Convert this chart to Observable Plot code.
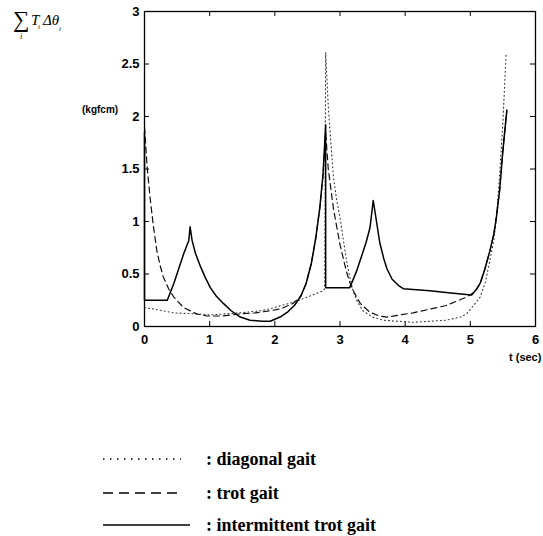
<!DOCTYPE html>
<html><head><meta charset="utf-8">
<script src="https://cdn.jsdelivr.net/npm/d3@7"></script>
<script src="https://cdn.jsdelivr.net/npm/@observablehq/plot@0.6"></script>
<style>
body{margin:0;background:#fff;width:543px;height:536px;position:relative;overflow:hidden;font-family:"Liberation Sans",Arial,sans-serif}
#chart{position:absolute;left:0;top:0}
.abs{position:absolute;white-space:nowrap;line-height:1}
.leg{font-family:"Liberation Serif","Times New Roman",serif;font-weight:bold;font-size:18px;color:#000}
.sym{font-family:"Liberation Serif","Times New Roman",serif;font-style:italic;color:#000}
</style></head><body>
<div id="chart"></div>
<div class="abs sym" style="left:13px;top:8px;font-size:23px;font-style:normal">&#8721;</div>
<div class="abs sym" style="left:20px;top:33px;font-size:8px">i</div>
<div class="abs sym" style="left:31px;top:13px;font-size:15px">T</div>
<div class="abs sym" style="left:38px;top:24px;font-size:7px">i</div>
<div class="abs sym" style="left:43px;top:13px;font-size:15px">&#916;&#952;</div>
<div class="abs sym" style="left:59px;top:26px;font-size:7px">i</div>
<div class="abs" style="left:82px;top:105px;font-size:10px;font-weight:bold">(kgfcm)</div>
<div class="abs" style="left:509px;top:352px;font-size:11px;font-weight:bold">t (sec)</div>
<svg class="abs" style="left:0;top:440px" width="543" height="96" id="legsvg"></svg>
<div class="abs leg" style="left:206px;top:450px">: diagonal gait</div>
<div class="abs leg" style="left:206px;top:484px">: trot gait</div>
<div class="abs leg" style="left:206px;top:516px">: intermittent trot gait</div>
<script>
// Ticks
const xTicks = [0, 1, 2, 3, 4, 5, 6];
const yTicks = [0, 0.5, 1, 1.5, 2, 2.5, 3];

// Series names
const seriesNames = ["diagonal gait", "trot gait", "intermittent trot gait"];

// diagonal gait (dotted)
const tDiagonal = [0, 0.2, 0.45, 0.8, 1.0, 1.47, 1.78, 1.93, 2.1, 2.28, 2.5, 2.74, 2.765, 2.78, 2.82, 2.86, 2.9, 2.95, 3.0, 3.05, 3.1, 3.15, 3.2, 3.27, 3.35, 3.5, 3.66, 4.12, 4.63, 4.85, 4.94, 5.05, 5.15, 5.23, 5.3, 5.36, 5.4, 5.45, 5.5, 5.55];
const vDiagonal = [0.18, 0.16, 0.13, 0.12, 0.11, 0.13, 0.15, 0.17, 0.2, 0.23, 0.28, 0.34, 0.36, 2.61, 2.1, 1.75, 1.42, 1.2, 1.04, 0.83, 0.63, 0.47, 0.34, 0.23, 0.15, 0.09, 0.06, 0.04, 0.06, 0.09, 0.12, 0.2, 0.28, 0.42, 0.63, 0.82, 1.04, 1.45, 1.95, 2.61];

// trot gait (dashed)
const tTrot = [0, 0.04, 0.09, 0.14, 0.19, 0.24, 0.29, 0.37, 0.45, 0.6, 0.8, 0.96, 1.2, 1.47, 1.7, 1.93, 2.1, 2.28, 2.4, 2.48, 2.56, 2.63, 2.69, 2.74, 2.78, 2.82, 2.9, 3.0, 3.1, 3.15, 3.22, 3.31, 3.45, 3.6, 3.72, 4.12, 4.63, 4.94, 5.07, 5.15, 5.22, 5.3, 5.36, 5.4, 5.45, 5.5, 5.56];
const vTrot = [1.9, 1.52, 1.2, 0.94, 0.72, 0.58, 0.47, 0.36, 0.28, 0.18, 0.12, 0.1, 0.1, 0.12, 0.13, 0.15, 0.17, 0.22, 0.29, 0.41, 0.6, 0.85, 1.13, 1.45, 1.85, 1.5, 1.12, 0.78, 0.52, 0.42, 0.32, 0.22, 0.14, 0.1, 0.09, 0.13, 0.2, 0.28, 0.33, 0.41, 0.54, 0.72, 0.88, 1.04, 1.3, 1.68, 2.06];

// intermittent trot gait (solid)
const tInter = [0, 0, 0.35, 0.45, 0.6, 0.68, 0.7, 0.73, 0.78, 0.86, 0.93, 1.01, 1.1, 1.21, 1.33, 1.47, 1.62, 1.8, 1.93, 2.08, 2.2, 2.3, 2.4, 2.48, 2.56, 2.63, 2.69, 2.74, 2.78, 2.78, 3.15, 3.25, 3.31, 3.4, 3.46, 3.51, 3.56, 3.61, 3.67, 3.72, 3.8, 3.9, 3.97, 4.38, 4.7, 5.02, 5.1, 5.15, 5.22, 5.3, 5.36, 5.4, 5.45, 5.5, 5.56];
const vInter = [1.85, 0.25, 0.25, 0.41, 0.69, 0.82, 0.95, 0.82, 0.7, 0.57, 0.47, 0.37, 0.29, 0.22, 0.15, 0.09, 0.06, 0.05, 0.05, 0.09, 0.14, 0.2, 0.29, 0.41, 0.6, 0.85, 1.13, 1.45, 1.92, 0.37, 0.37, 0.52, 0.63, 0.8, 0.94, 1.2, 1.0, 0.8, 0.65, 0.55, 0.45, 0.39, 0.36, 0.34, 0.32, 0.3, 0.36, 0.41, 0.54, 0.72, 0.88, 1.04, 1.3, 1.68, 2.06];

const toRows = (ts, vs) => ts.map((t, i) => ({t, v: vs[i]}));
const diagonal = toRows(tDiagonal, vDiagonal);
const trot = toRows(tTrot, vTrot);
const inter = toRows(tInter, vInter);

const W = 543, H = 370, mL = 144, mR = 8, mT = 11, mB = 44;
const fw = W - mL - mR, fh = H - mT - mB, tk = 5;

const chart = Plot.plot({
  width: W, height: H,
  marginLeft: mL, marginRight: mR, marginTop: mT, marginBottom: mB,
  style: {fontFamily: '"Liberation Sans", Arial, sans-serif', fontSize: "13px", fontWeight: "bold", color: "#000", background: "transparent"},
  x: {domain: [0, 6]},
  y: {domain: [0, 3]},
  marks: [
    Plot.axisX(xTicks, {tickSize: 0, tickPadding: 8, label: null, tickFormat: d => String(d)}),
    Plot.axisY(yTicks, {tickSize: 0, tickPadding: 5, label: null, tickFormat: d => String(d)}),
    Plot.tickX(xTicks, {x: d => d, insetTop: fh - tk, stroke: "#000"}),
    Plot.tickX(xTicks, {x: d => d, insetBottom: fh - tk, stroke: "#000"}),
    Plot.tickY(yTicks, {y: d => d, insetRight: fw - tk, stroke: "#000"}),
    Plot.tickY(yTicks, {y: d => d, insetLeft: fw - tk, stroke: "#000"}),
    Plot.line(diagonal, {x: "t", y: "v", stroke: "#333", strokeWidth: 1.1, strokeDasharray: "1,3"}),
    Plot.line(trot, {x: "t", y: "v", stroke: "#111", strokeWidth: 1.2, strokeDasharray: "6,4"}),
    Plot.line(inter, {x: "t", y: "v", stroke: "#000", strokeWidth: 1.5}),
    Plot.frame({stroke: "#000", strokeWidth: 1.3})
  ]
});
document.getElementById("chart").appendChild(chart);

// legend samples
const leg = d3.select("#legsvg");
const styles = [
  {dash: "1.5,5.5", w: 1.3, x2: 181, y: 19},
  {dash: "10,6", w: 1.5, x2: 182, y: 53},
  {dash: null, w: 1.5, x2: 190, y: 85}
];
styles.forEach((s, i) => {
  leg.append("line").attr("x1", 103).attr("x2", s.x2).attr("y1", s.y).attr("y2", s.y)
    .attr("stroke", "#000").attr("stroke-width", s.w)
    .attr("stroke-dasharray", s.dash).append("title").text(seriesNames[i]);
});
</script>
</body></html>
